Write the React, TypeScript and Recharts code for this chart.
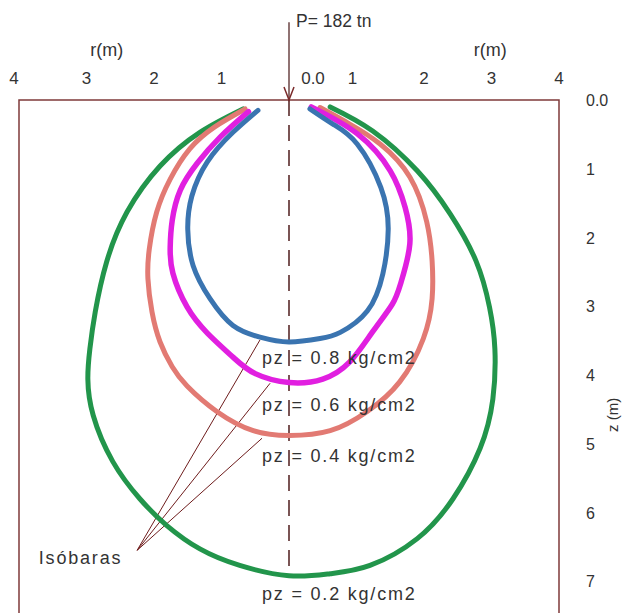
import {
  Line,
  LineChart,
  ReferenceArea,
  ReferenceDot,
  ReferenceLine,
  XAxis,
  YAxis,
} from "recharts";

type Pt = { r: number; z: number };

// radial distance r (m) from the load axis, depth z (m)
const radialTicks = [-4, -3, -2, -1, 0, 1, 2, 3, 4];
const depthTicks = [0, 1, 2, 3, 4, 5, 6, 7];

const loadLabel = "P= 182 tn";
const pressureLabels = ["pz = 0.8 kg/cm2", "pz = 0.6 kg/cm2", "pz = 0.4 kg/cm2", "pz = 0.2 kg/cm2"];

const isobar08: Pt[] = [
  { r: -0.46, z: 0.15 }, { r: -0.83, z: 0.47 }, { r: -1.21, z: 0.9 }, { r: -1.44, z: 1.4 },
  { r: -1.5, z: 1.88 }, { r: -1.42, z: 2.41 }, { r: -1.17, z: 2.89 }, { r: -0.83, z: 3.28 },
  { r: -0.43, z: 3.45 }, { r: 0, z: 3.52 }, { r: 0.46, z: 3.47 }, { r: 0.76, z: 3.38 },
  { r: 1.16, z: 3.07 }, { r: 1.39, z: 2.53 }, { r: 1.47, z: 1.88 }, { r: 1.36, z: 1.27 },
  { r: 1.01, z: 0.64 }, { r: 0.65, z: 0.35 }, { r: 0.31, z: 0.13 },
];

const isobar06: Pt[] = [
  { r: -0.6, z: 0.17 }, { r: -1.02, z: 0.54 }, { r: -1.36, z: 0.92 }, { r: -1.61, z: 1.31 },
  { r: -1.73, z: 1.75 }, { r: -1.76, z: 2.14 }, { r: -1.72, z: 2.52 }, { r: -1.51, z: 3.01 },
  { r: -1.21, z: 3.39 }, { r: -0.83, z: 3.74 }, { r: -0.5, z: 3.98 }, { r: 0, z: 4.11 },
  { r: 0.5, z: 4.06 }, { r: 0.9, z: 3.81 }, { r: 1.24, z: 3.37 }, { r: 1.53, z: 2.97 },
  { r: 1.66, z: 2.65 }, { r: 1.79, z: 2.09 }, { r: 1.72, z: 1.56 }, { r: 1.5, z: 1.03 },
  { r: 1.01, z: 0.49 }, { r: 0.33, z: 0.1 },
];

const isobar04: Pt[] = [
  { r: -0.65, z: 0.13 }, { r: -1.1, z: 0.39 }, { r: -1.47, z: 0.71 }, { r: -1.76, z: 1.15 },
  { r: -1.96, z: 1.63 }, { r: -2.07, z: 2.17 }, { r: -2.09, z: 2.6 }, { r: -2.03, z: 3.08 },
  { r: -1.91, z: 3.52 }, { r: -1.73, z: 3.88 }, { r: -1.51, z: 4.16 }, { r: -1.07, z: 4.53 },
  { r: -0.53, z: 4.81 }, { r: 0, z: 4.88 }, { r: 0.61, z: 4.81 }, { r: 1.16, z: 4.53 },
  { r: 1.64, z: 4.1 }, { r: 1.99, z: 3.47 }, { r: 2.12, z: 2.89 }, { r: 2.12, z: 2.34 },
  { r: 2.04, z: 1.77 }, { r: 1.79, z: 1.12 }, { r: 1.35, z: 0.64 }, { r: 0.9, z: 0.35 },
  { r: 0.46, z: 0.11 },
];

const isobar02: Pt[] = [
  { r: -0.68, z: 0.13 }, { r: -1.32, z: 0.47 }, { r: -1.91, z: 0.96 }, { r: -2.4, z: 1.63 },
  { r: -2.7, z: 2.35 }, { r: -2.87, z: 3.08 }, { r: -2.95, z: 3.62 }, { r: -2.98, z: 4.06 },
  { r: -2.9, z: 4.59 }, { r: -2.61, z: 5.26 }, { r: -2.21, z: 5.8 }, { r: -1.81, z: 6.19 },
  { r: -1.32, z: 6.53 }, { r: -0.73, z: 6.77 }, { r: 0, z: 6.92 }, { r: 0.61, z: 6.89 },
  { r: 1.2, z: 6.77 }, { r: 1.9, z: 6.38 }, { r: 2.43, z: 5.8 }, { r: 2.83, z: 5.07 },
  { r: 3.02, z: 4.35 }, { r: 3.05, z: 3.62 }, { r: 2.97, z: 3.01 }, { r: 2.77, z: 2.34 },
  { r: 2.39, z: 1.66 }, { r: 1.9, z: 1.03 }, { r: 1.24, z: 0.45 }, { r: 0.61, z: 0.1 },
];

// where the "Isóbaras" leaders start and the three curves they point to
const leaderOrigin: Pt = { r: -2.25, z: 6.55 };
const leaderTargets: Pt[] = [
  { r: -0.43, z: 3.49 },
  { r: -0.28, z: 4.12 },
  { r: -0.4, z: 4.92 },
];

const FONT = "'Liberation Sans', Arial, sans-serif";
const INK = "#333333";
const FRAME = "#7f3a3a";

function RadialTick({ x, y, payload }: any) {
  const v = payload.value as number;
  const dx = v === 0 ? 24 : v === -4 ? -5 : v === 1 ? -4 : 0;
  return (
    <text x={x + dx} y={y} textAnchor="middle" fontFamily={FONT} fontSize={17} fill={INK}>
      {v === 0 ? "0.0" : String(Math.abs(v))}
    </text>
  );
}

function DepthTick({ x, y, payload }: any) {
  const v = payload.value as number;
  return (
    <text x={x} y={y + 6} textAnchor="start" fontFamily={FONT} fontSize={16} fill={INK}>
      {v === 0 ? "0.0" : String(v)}
    </text>
  );
}

const note =
  (text: string, anchor: "start" | "middle" | "end" = "start", spacing = 0, size = 18) =>
  (p: any) => (
    <text
      x={p.cx}
      y={p.cy}
      textAnchor={anchor}
      fontFamily={FONT}
      fontSize={size}
      letterSpacing={spacing}
      fill={INK}
    >
      {text}
    </text>
  );

function LoadArrow(p: any) {
  const { x1, y1, x2, y2 } = p;
  return (
    <g>
      <line x1={x1} y1={y1} x2={x2} y2={y2} stroke="#6b4444" strokeWidth={1.5} />
      <path d={`M${x2 - 5},${y2 - 13} L${x2},${y2} L${x2 + 5},${y2 - 13}`} fill="none" stroke="#7a2a2a" strokeWidth={1.5} />
      <text x={x1 + 7} y={y1 + 5} fontFamily={FONT} fontSize={17.5} fill={INK}>
        {loadLabel}
      </text>
    </g>
  );
}

export default function App() {
  return (
    <div style={{ position: "fixed", left: 0, top: 0, width: 623, height: 613, overflow: "hidden", background: "#fff" }}>
      <LineChart width={623} height={650} margin={{ top: 70, right: 0, bottom: 0, left: 19 }}>
        <XAxis
          type="number"
          dataKey="r"
          orientation="top"
          domain={[-4, 4]}
          ticks={radialTicks}
          interval={0}
          height={30}
          tickSize={0}
          tickMargin={16}
          axisLine={false}
          tickLine={false}
          tick={<RadialTick />}
          allowDataOverflow
        />
        <YAxis
          type="number"
          dataKey="z"
          orientation="right"
          reversed
          domain={[0, 8]}
          ticks={depthTicks}
          interval={0}
          width={64}
          tickSize={0}
          tickMargin={27}
          axisLine={false}
          tickLine={false}
          tick={<DepthTick />}
          allowDataOverflow
        />

        <ReferenceArea x1={-4} x2={4} y1={0} y2={8} fill="none" stroke={FRAME} strokeWidth={1.5} ifOverflow="visible" />

        <ReferenceLine
          segment={[{ x: 0, y: 0 }, { x: 0, y: 6.92 }]}
          stroke="#4f1c1c"
          strokeWidth={1.5}
          strokeDasharray="16 9"
        />
        <ReferenceLine
          segment={[{ x: 0, y: -1.13 }, { x: 0, y: 0 }]}
          ifOverflow="visible"
          shape={<LoadArrow />}
        />

        {leaderTargets.map((t, i) => (
          <ReferenceLine
            key={i}
            segment={[{ x: leaderOrigin.r, y: leaderOrigin.z }, { x: t.r, y: t.z }]}
            stroke="#6e1c1c"
            strokeWidth={1}
          />
        ))}

        <Line data={isobar02} dataKey="z" type="natural" stroke="#22954b" strokeWidth={5} strokeLinecap="round" dot={false} activeDot={false} isAnimationActive={false} />
        <Line data={isobar04} dataKey="z" type="natural" stroke="#e27a73" strokeWidth={5} strokeLinecap="round" dot={false} activeDot={false} isAnimationActive={false} />
        <Line data={isobar06} dataKey="z" type="natural" stroke="#e11fe0" strokeWidth={5.5} strokeLinecap="round" dot={false} activeDot={false} isAnimationActive={false} />
        <Line data={isobar08} dataKey="z" type="natural" stroke="#3a74b0" strokeWidth={5} strokeLinecap="round" dot={false} activeDot={false} isAnimationActive={false} />

        <ReferenceDot x={-0.4} y={3.84} r={0} ifOverflow="visible" shape={note(pressureLabels[0], "start", 1.8)} />
        <ReferenceDot x={-0.4} y={4.52} r={0} ifOverflow="visible" shape={note(pressureLabels[1], "start", 1.8)} />
        <ReferenceDot x={-0.4} y={5.27} r={0} ifOverflow="visible" shape={note(pressureLabels[2], "start", 1.8)} />
        <ReferenceDot x={-0.4} y={7.27} r={0} ifOverflow="visible" shape={note(pressureLabels[3], "start", 1.8)} />
        <ReferenceDot x={-2.47} y={6.75} r={0} ifOverflow="visible" shape={note("Isóbaras", "end", 1.8)} />

        <ReferenceDot x={-2.7} y={-0.64} r={0} ifOverflow="visible" shape={note("r(m)", "middle")} />
        <ReferenceDot x={2.98} y={-0.64} r={0} ifOverflow="visible" shape={note("r(m)", "middle")} />
        <ReferenceDot
          x={4.79}
          y={4.58}
          r={0}
          ifOverflow="visible"
          shape={(p: any) => (
            <text
              x={p.cx}
              y={p.cy}
              transform={`rotate(-90 ${p.cx} ${p.cy})`}
              textAnchor="middle"
              dominantBaseline="central"
              fontFamily={FONT}
              fontSize={15}
              fill={INK}
            >
              z (m)
            </text>
          )}
        />
      </LineChart>
    </div>
  );
}
